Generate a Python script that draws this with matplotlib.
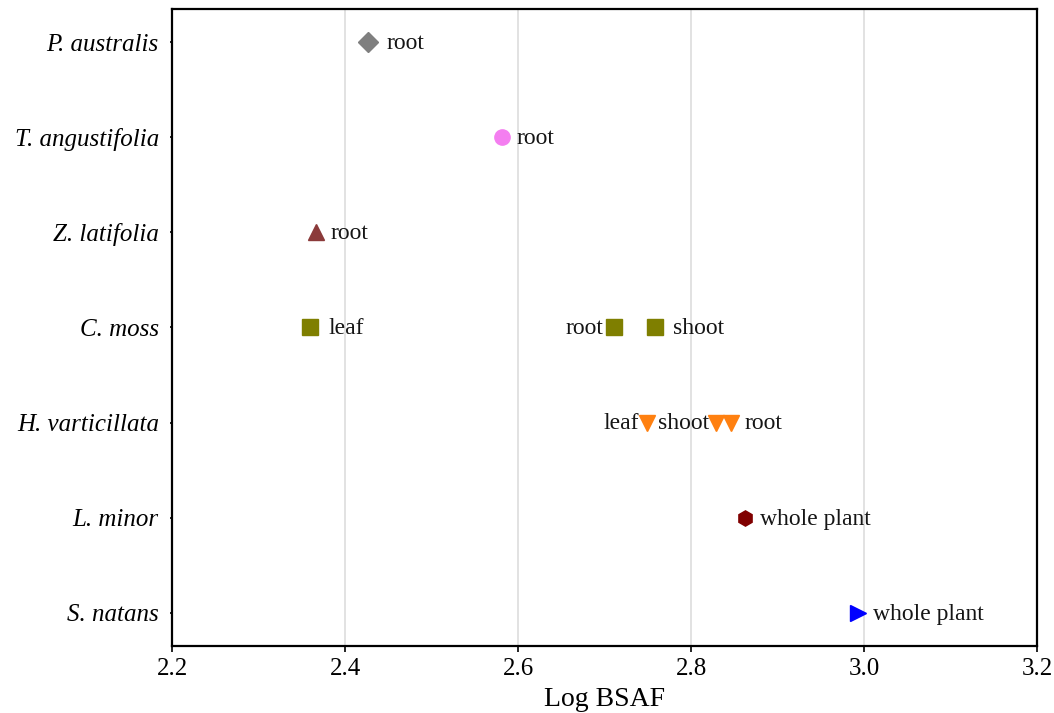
import matplotlib
matplotlib.use("Agg")
from matplotlib import pyplot as plt

# species shown top to bottom
species = ["P. australis", "T. angustifolia", "Z. latifolia", "C. moss",
           "H. varticillata", "L. minor", "S. natans"]

# log BSAF per tissue
p_australis = {"root": 2.427}
t_angustifolia = {"root": 2.582}
z_latifolia = {"root": 2.366}
c_moss = {"leaf": 2.36, "root": 2.711, "shoot": 2.758}
h_varticillata = {"leaf": 2.749, "shoot": 2.829, "root": 2.846}
l_minor = {"whole plant": 2.862}
s_natans = {"whole plant": 2.993}

values = [p_australis, t_angustifolia, z_latifolia, c_moss,
          h_varticillata, l_minor, s_natans]
markers = ["D", "o", "^", "s", "v", "h", ">"]
colors = ["#7f7f7f", "#f47ef0", "#8b3a3a", "#7f7f00", "#ff8010", "#800000", "#0000ff"]
sizes = [10, 11, 11, 12, 11, 11, 12]

# label offsets in points, and alignment
default_off = [13, 10, 11, 13, 10, 11, 11]
label_pos = {
    ("C. moss", "root"): (-8, "right"),
    ("H. varticillata", "leaf"): (-6, "right"),
    ("H. varticillata", "shoot"): (-5, "right"),
    ("H. varticillata", "root"): (10, "left"),
}

plt.rcParams["font.family"] = ["Liberation Serif", "DejaVu Serif"]

fig = plt.figure(figsize=(10.54, 7.13), dpi=100)
ax = fig.add_axes([0.1632, 0.094, 0.8207, 0.8934])

n = len(species)
for i, (name, vals) in enumerate(zip(species, values)):
    y = n - 1 - i
    for tissue, x in vals.items():
        ax.plot(x, y, marker=markers[i], color=colors[i], markersize=sizes[i],
                linestyle="none", zorder=3)
        dx, ha = label_pos.get((name, tissue), (default_off[i], "left"))
        ax.annotate(tissue, (x, y), xytext=(dx, -1), textcoords="offset points",
                    ha=ha, va="center", fontsize=17, color="#151515")

ax.set_xlim(2.2, 3.2)
ax.set_ylim(-0.35, n - 1 + 0.35)
ax.set_xticks([2.2, 2.4, 2.6, 2.8, 3.0, 3.2])
ax.set_xticklabels(["2.2", "2.4", "2.6", "2.8", "3.0", "3.2"])
ax.set_yticks(range(n))
ax.set_yticklabels(species[::-1], style="italic")
ax.tick_params(axis="both", labelsize=18, width=1.2, direction="out")
ax.tick_params(axis="x", length=4, pad=5)
ax.tick_params(axis="y", length=1.5, pad=8)
ax.grid(axis="x", color="#dddddd", linewidth=1.2)
ax.set_axisbelow(True)
for s in ax.spines.values():
    s.set_linewidth(1.6)
ax.set_xlabel("Log BSAF", fontsize=20, labelpad=5)

fig.savefig("out.png", dpi=100)
